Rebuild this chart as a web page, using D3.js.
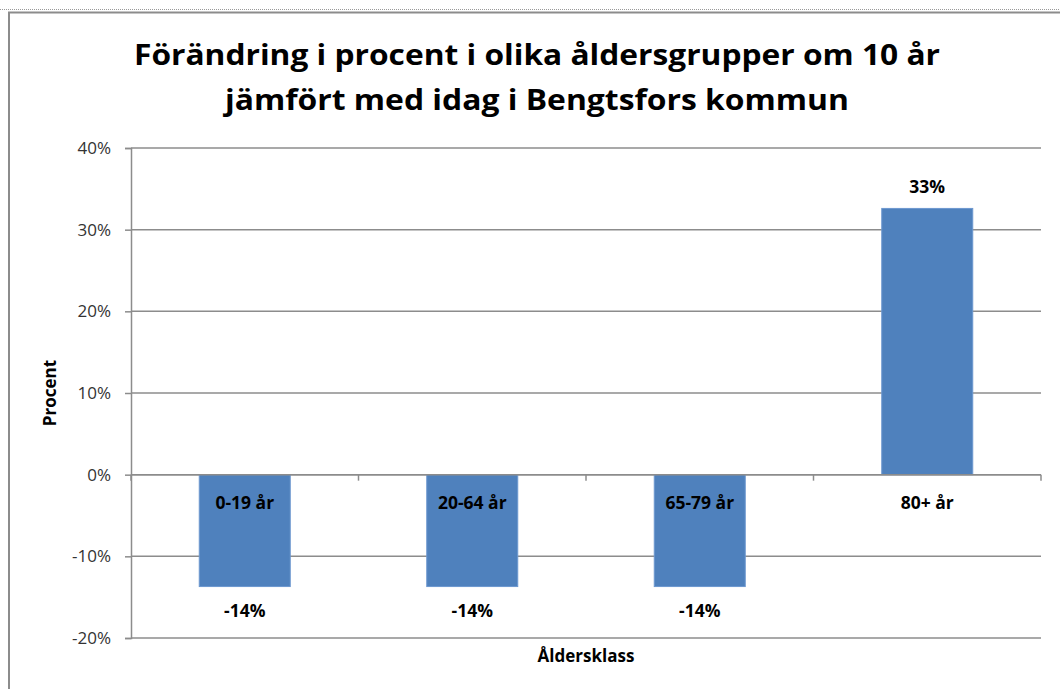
<!DOCTYPE html>
<html>
<head>
<meta charset="utf-8">
<script src="https://cdn.jsdelivr.net/npm/d3@7"></script>
<style>
  body { margin: 0; background: #fff; }
  svg { display: block; font-family: "Open Sans", "Noto Sans", sans-serif; }
</style>
</head>
<body>
<div id="chart"></div>
<script>
const categories = ["0-19 år", "20-64 år", "65-79 år", "80+ år"];
const values = [-13.7, -13.7, -13.7, 32.6];
const valueLabels = ["-14%", "-14%", "-14%", "33%"];
const yTicks = [-20, -10, 0, 10, 20, 30, 40];
const titleLines = ["Förändring i procent i olika åldersgrupper om 10 år", "jämfört med idag i Bengtsfors kommun"];

const width = 1060, height = 689;
const margin = {top: 148, right: 19, bottom: 51, left: 131};
const innerW = width - margin.left - margin.right;
const innerH = height - margin.top - margin.bottom;

const svg = d3.select("#chart").append("svg")
    .attr("width", width)
    .attr("height", height);

// outer frame
svg.append("line")
    .attr("x1", 0).attr("x2", width).attr("y1", 9.5).attr("y2", 9.5)
    .attr("stroke", "#999").attr("stroke-dasharray", "1,1");
svg.append("rect")
    .attr("x", 9).attr("y", 12.5).attr("width", width + 20).attr("height", height + 20)
    .attr("fill", "none").attr("stroke", "#8c8c8c").attr("stroke-width", 2);

// title
const title = svg.append("g").attr("font-weight", "bold").attr("fill", "#000");
title.selectAll("text")
    .data(titleLines)
    .enter().append("text")
    .attr("x", 537)
    .attr("y", (d, i) => 65 + i * 45)
    .attr("text-anchor", "middle")
    .attr("font-size", 29)
    .attr("textLength", (d, i) => i === 0 ? 806 : 624)
    .attr("lengthAdjust", "spacingAndGlyphs")
    .text(d => d);

const g = svg.append("g")
    .attr("transform", `translate(${margin.left}, ${margin.top})`);

const x = d3.scaleBand().domain(categories).range([0, innerW]).paddingInner(0.6).paddingOuter(0.3);
const xb = d3.scaleBand().domain(categories).range([0, innerW]);
const y = d3.scaleLinear().domain([-20, 40]).range([innerH, 0]);

// gridlines
g.append("g")
    .selectAll("line")
    .data(yTicks)
    .enter().append("line")
    .attr("x1", 0).attr("x2", innerW)
    .attr("y1", d => y(d)).attr("y2", d => y(d))
    .attr("stroke", "#8c8c8c").attr("stroke-width", 1.5);

// y axis
const yAxis = d3.axisLeft(y).tickValues(yTicks).tickSize(6).tickPadding(14)
    .tickFormat(d => d + "%");
const ya = g.append("g").attr("class", "y axis").call(yAxis);
ya.select(".domain").attr("stroke", "#8c8c8c").attr("stroke-width", 1.5);
ya.selectAll(".tick line").attr("stroke", "#8c8c8c").attr("stroke-width", 1.5);
ya.selectAll(".tick text").attr("font-size", 17).attr("fill", "#333")
    .attr("font-family", "'Open Sans', sans-serif");

// bars
g.selectAll("rect.bar")
    .data(values)
    .enter().append("rect")
    .attr("class", "bar")
    .attr("x", (d, i) => x(categories[i]))
    .attr("width", x.bandwidth())
    .attr("y", d => y(Math.max(0, d)))
    .attr("height", d => Math.abs(y(d) - y(0)))
    .attr("fill", "#4f81bd")
    .attr("stroke", "#6d98cf").attr("stroke-width", 1);

// zero axis with category ticks
g.append("line")
    .attr("x1", 0).attr("x2", innerW).attr("y1", y(0)).attr("y2", y(0))
    .attr("stroke", "#8c8c8c").attr("stroke-width", 1.5);
g.append("g")
    .selectAll("line")
    .data(categories.concat(["end"]))
    .enter().append("line")
    .attr("x1", (d, i) => i < categories.length ? xb(d) : innerW)
    .attr("x2", (d, i) => i < categories.length ? xb(d) : innerW)
    .attr("y1", y(0)).attr("y2", y(0) + 6)
    .attr("stroke", "#8c8c8c").attr("stroke-width", 1.5);

// category labels
g.selectAll("text.cat")
    .data(categories)
    .enter().append("text")
    .attr("class", "cat")
    .attr("x", d => x(d) + x.bandwidth() / 2)
    .attr("y", y(0) + 34)
    .attr("text-anchor", "middle")
    .attr("font-size", 17.5).attr("font-weight", "bold")
    .text(d => d);

// value labels
g.selectAll("text.val")
    .data(values)
    .enter().append("text")
    .attr("class", "val")
    .attr("x", (d, i) => x(categories[i]) + x.bandwidth() / 2)
    .attr("y", d => d < 0 ? y(d) + 30 : y(d) - 15)
    .attr("text-anchor", "middle")
    .attr("font-size", 17.5).attr("font-weight", "bold")
    .text((d, i) => valueLabels[i]);

// axis titles
svg.append("text")
    .attr("x", 586).attr("y", 662)
    .attr("text-anchor", "middle")
    .attr("font-size", 17).attr("font-weight", "bold")
    .text("Åldersklass");
svg.append("text")
    .attr("transform", "translate(56, 393) rotate(-90)")
    .attr("text-anchor", "middle")
    .attr("font-size", 17).attr("font-weight", "bold")
    .text("Procent");
</script>
</body>
</html>
